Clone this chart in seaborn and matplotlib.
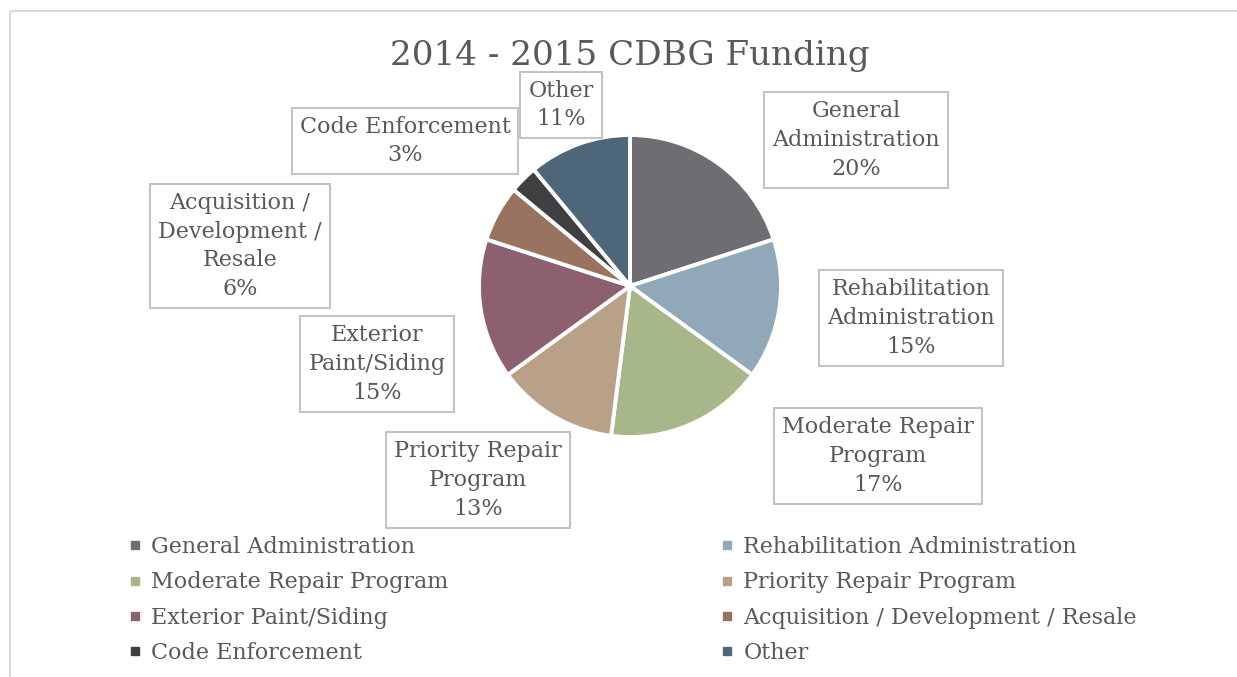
import matplotlib
matplotlib.use("Agg")
import matplotlib.pyplot as plt
from matplotlib.lines import Line2D
import seaborn as sns

# Funding shares (percent) by program
categories = [
    "General Administration",
    "Rehabilitation Administration",
    "Moderate Repair Program",
    "Priority Repair Program",
    "Exterior Paint/Siding",
    "Acquisition / Development / Resale",
    "Code Enforcement",
    "Other",
]
shares = [20, 15, 17, 13, 15, 6, 3, 11]
box_labels = [
    "General\nAdministration",
    "Rehabilitation\nAdministration",
    "Moderate Repair\nProgram",
    "Priority Repair\nProgram",
    "Exterior\nPaint/Siding",
    "Acquisition /\nDevelopment /\nResale",
    "Code Enforcement",
    "Other",
]
title = "2014 - 2015 CDBG Funding"

colors = ["#6E6D72", "#91A8B9", "#A7B789", "#B9A188",
          "#8C6070", "#9A7260", "#3F3F41", "#4E6679"]

# Label box centres (figure pixels, y measured from top)
label_pos = [(856, 140), (911, 318), (878, 456), (478, 480),
             (377, 364), (240, 246), (405, 141), (561, 105)]

sns.set_theme(style="white")
plt.rcParams["font.family"] = ["DejaVu Serif"]

W, H = 1237, 677
fig = plt.figure(figsize=(W / 100, H / 100), dpi=100)
ax = fig.add_axes([0, 0, 1, 1])

text_color = "#595959"

cx, cy, r = 630, H - 286, 151
wedges, _ = ax.pie(
    shares, colors=colors, startangle=90, counterclock=False,
    center=(cx, cy), radius=r, frame=True,
    wedgeprops=dict(edgecolor="white", linewidth=2.8),
)
ax.set_xlim(0, W)
ax.set_ylim(0, H)
ax.set_aspect("auto")
ax.set_axis_off()

# Chart frame edges
ax.plot([10, 10], [0, H - 11], color="#D9D9D9", lw=1.5, solid_capstyle="butt")
ax.plot([10, W], [H - 11, H - 11], color="#D9D9D9", lw=1.5, solid_capstyle="butt")

for lab, val, (px, py) in zip(box_labels, shares, label_pos):
    ax.text(px, H - py, f"{lab}\n{val}%", ha="center", va="center",
            fontsize=16, color=text_color, linespacing=1.4,
            bbox=dict(boxstyle="square,pad=0.36", facecolor="white",
                      edgecolor="#C4C4C4", linewidth=1.5))

ax.text(630, H - 56, title, ha="center", va="center", fontsize=24.6,
        color=text_color)

def make_handles(idx):
    return [Line2D([0], [0], marker="s", linestyle="none", markersize=6,
                   markerfacecolor=colors[i], markeredgecolor=colors[i])
            for i in idx]

left_idx = [0, 2, 4, 6]
right_idx = [1, 3, 5, 7]
for idx, x0 in ((left_idx, 128 / W), (right_idx, 720 / W)):
    leg = fig.legend(make_handles(idx), [categories[i] for i in idx],
                     loc="upper left", bbox_to_anchor=(x0, 1 - 536 / H),
                     frameon=False, fontsize=16, handlelength=0.6,
                     handletextpad=0.45, labelspacing=0.6,
                     borderaxespad=0, borderpad=0)
    for t in leg.get_texts():
        t.set_color(text_color)

fig.savefig("out.png", dpi=100)
